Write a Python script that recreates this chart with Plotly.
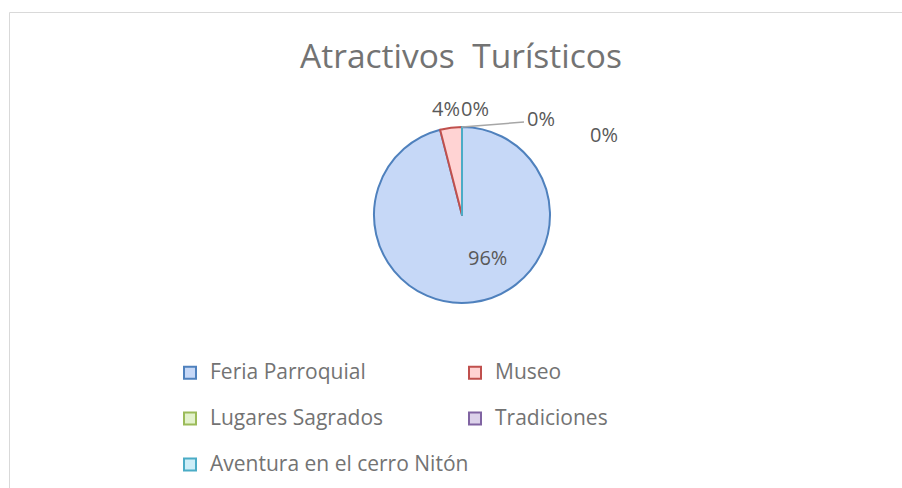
import plotly.graph_objects as go

# ---- data ----
categories = ["Feria Parroquial", "Museo", "Lugares Sagrados", "Tradiciones", "Aventura en el cerro Nitón"]
values = [96, 4, 0, 0, 0]
title_text = "Atractivos\u00a0 Turísticos"

# ---- style ----
fills = ["#c6d8f7", "#ffd3d3", "#e3f2cc", "#dcd2ea", "#cdeef8"]
edges = ["#4f81bd", "#c0504d", "#9bbb59", "#8064a2", "#4bacc6"]
txt = "#595959"
txt_light = "#737373"
FONT = "Open Sans"
W, H = 902, 488
ML, MR = 140, 140
PW = W - ML - MR
cx, cy, r = 462, 215, 88


def px(x):
    return (x - ML) / PW


def py(y):
    return 1 - y / H


total = sum(values)
pct = [f"{round(v / total * 100)}%" for v in values]
legend_names = [f" <br><span style='font-size:21px'>{c}</span>" for c in categories]

fig = go.Figure(go.Pie(
    labels=legend_names,
    values=values,
    sort=False,
    direction="clockwise",
    rotation=0,
    textinfo="none",
    hoverinfo="percent",
    marker=dict(colors=fills, line=dict(color=edges, width=2)),
    domain=dict(x=[px(cx - r), px(cx + r)], y=[py(cy + r), py(cy - r)]),
    showlegend=True,
))

# data labels (text computed from the values)
label_pos = [(487, 257), (446, 108), (475, 108), (541, 118), (604, 134)]
ann = []
for (x, y), t in zip(label_pos, pct):
    ann.append(dict(x=px(x), y=py(y), xref="paper", yref="paper", text=t,
                    showarrow=False, font=dict(family=FONT, size=20, color=txt),
                    xanchor="center", yanchor="middle"))

shapes = [
    # chart border
    dict(type="rect", xref="paper", yref="paper", x0=px(9.5), x1=px(W + 20), y0=py(H + 20), y1=py(12.5),
         line=dict(color="#d9d9d9", width=1), fillcolor="rgba(0,0,0,0)", layer="below"),
    # leader line from pie top to label
    dict(type="line", xref="paper", yref="paper", x0=px(cx), y0=py(cy - r),
         x1=px(cx + 62), y1=py(cy - r - 5), line=dict(color="#a6a6a6", width=1.5)),
]

fig.update_layout(
    width=W, height=H,
    margin=dict(l=ML, r=MR, t=0, b=0),
    paper_bgcolor="white", plot_bgcolor="white",
    title=dict(text=title_text, x=461 / W, xanchor="center", y=1 - 56 / H, yanchor="middle",
               font=dict(family=FONT, size=33.5, color=txt_light)),
    font=dict(family=FONT, color=txt_light),
    legend=dict(orientation="h", x=px(170), xanchor="left", y=py(334), yanchor="top",
                valign="bottom", entrywidth=240, entrywidthmode="pixels", itemwidth=30,
                font=dict(family=FONT, size=16.5, color=txt_light), bgcolor="rgba(0,0,0,0)"),
    annotations=ann,
    shapes=shapes,
)

fig.write_html("out.html", config={"displayModeBar": False},
               post_script="document.body.style.margin='0';")
